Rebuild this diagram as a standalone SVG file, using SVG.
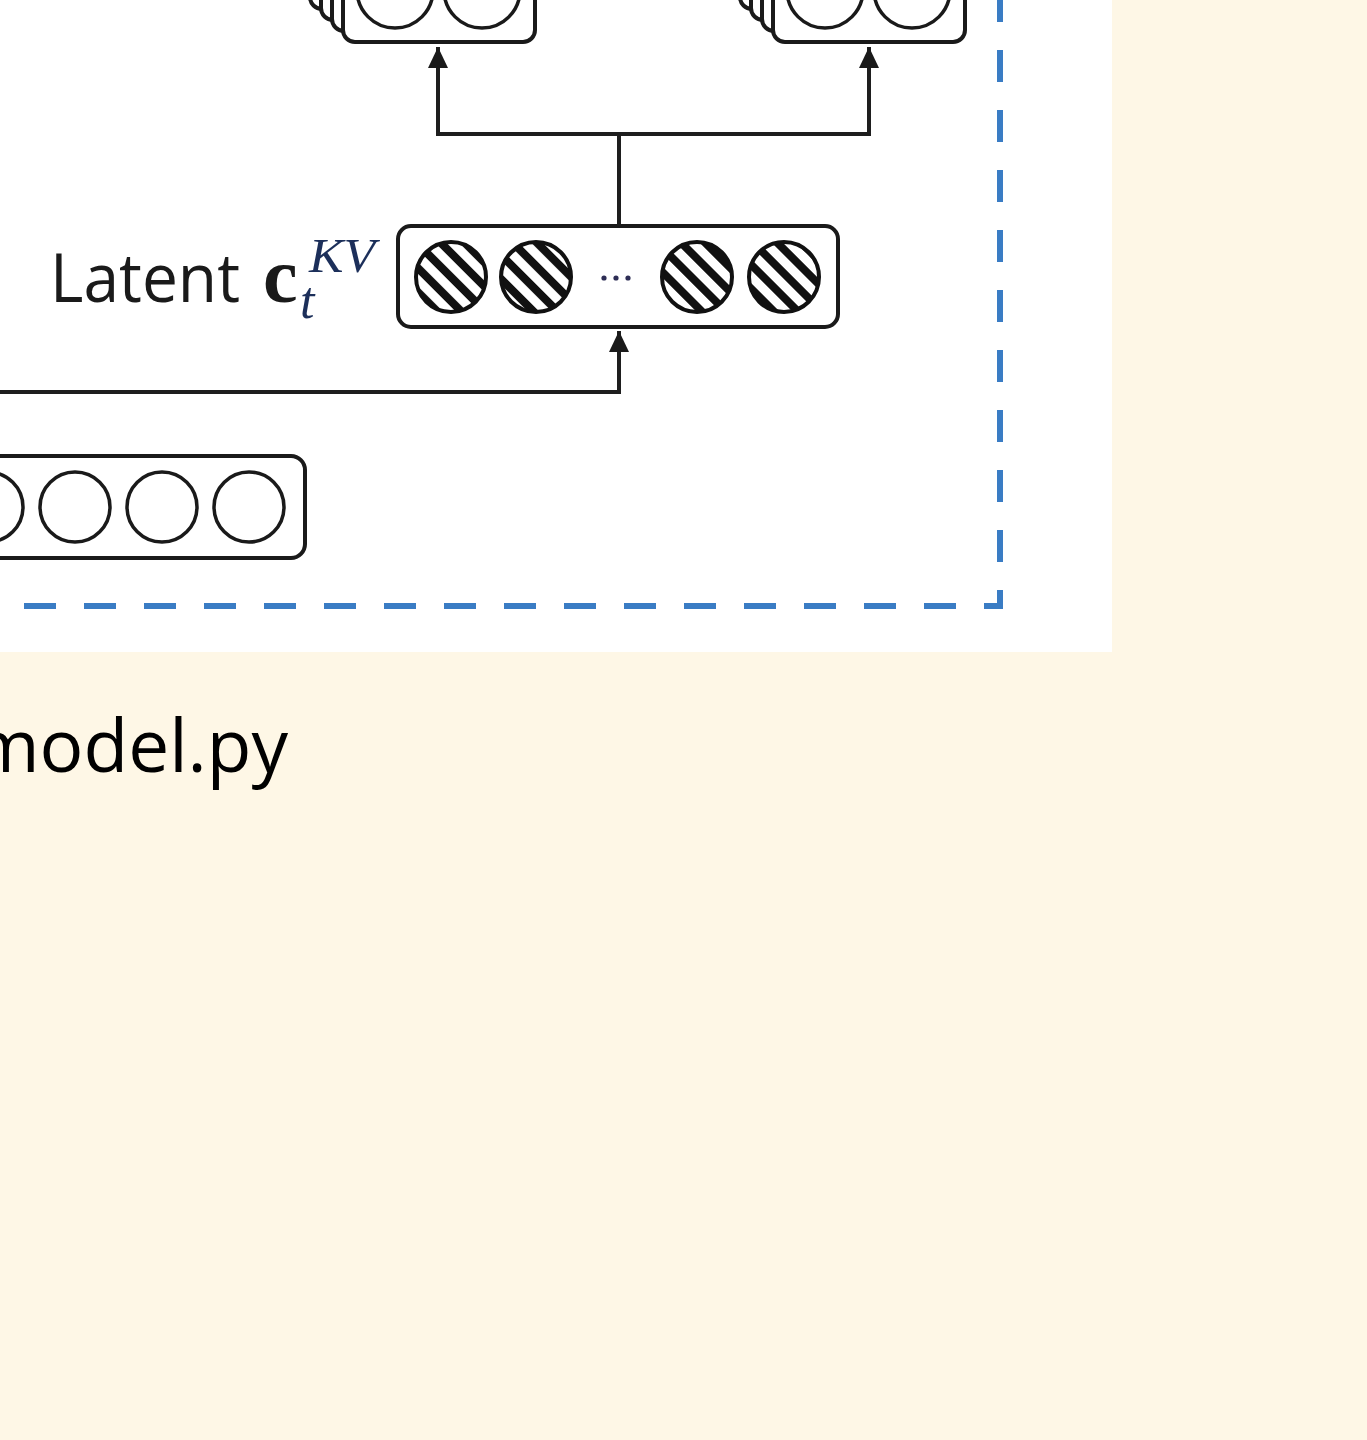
<svg xmlns="http://www.w3.org/2000/svg" width="1367" height="1440" viewBox="0 0 1367 1440">
  <defs>
    <pattern id="hatch" width="17" height="17" patternUnits="userSpaceOnUse" patternTransform="rotate(-45)">
      <rect x="0" y="0" width="17" height="17" fill="#ffffff"/>
      <rect x="0" y="0" width="8" height="17" fill="#111111"/>
    </pattern>
    <marker id="arrow" markerUnits="userSpaceOnUse" markerWidth="22" markerHeight="20" viewBox="0 0 22 20" refX="21" refY="10" orient="auto">
      <path d="M0,0 L21,10 L0,20 Z" fill="#1a1a1a"/>
    </marker>
  </defs>
  <style>
    .box { fill: #ffffff; stroke: #1a1a1a; stroke-width: 4; }
    .circ { fill: #ffffff; stroke: #1a1a1a; stroke-width: 3.5; }
    .hcirc { fill: url(#hatch); stroke: #111111; stroke-width: 4; }
    .conn { fill: none; stroke: #1e1e1e; stroke-width: 4; }
    .dash { fill: none; stroke: #3a7cc4; stroke-width: 6; stroke-dasharray: 32 28; }
  </style>

  <rect x="0" y="0" width="1367" height="1440" fill="#fef7e6"/>
  <rect x="0" y="0" width="1112" height="652" fill="#ffffff"/>

  <g id="border">
    <path class="dash" d="M1000,-10 V606 H-20"/>
  </g>

  <g id="stack-left">
    <rect class="box" x="310" y="-139" width="192" height="148" rx="12"/>
    <rect class="box" x="321" y="-128" width="192" height="148" rx="12"/>
    <rect class="box" x="332" y="-117" width="192" height="148" rx="12"/>
    <rect class="box" x="343" y="-106" width="192" height="148" rx="12"/>
    <circle class="circ" cx="395" cy="-10" r="38"/>
    <circle class="circ" cx="482" cy="-10" r="38"/>
  </g>

  <g id="stack-right">
    <rect class="box" x="740" y="-139" width="192" height="148" rx="12"/>
    <rect class="box" x="751" y="-128" width="192" height="148" rx="12"/>
    <rect class="box" x="762" y="-117" width="192" height="148" rx="12"/>
    <rect class="box" x="773" y="-106" width="192" height="148" rx="12"/>
    <circle class="circ" cx="825" cy="-10" r="38"/>
    <circle class="circ" cx="912" cy="-10" r="38"/>
  </g>

  <g id="latent">
    <rect class="box" x="398" y="226" width="440" height="101" rx="13"/>
    <circle class="hcirc" cx="451" cy="277" r="35"/>
    <circle class="hcirc" cx="536" cy="277" r="35"/>
    <circle class="hcirc" cx="697" cy="277" r="35"/>
    <circle class="hcirc" cx="784" cy="277" r="35"/>
    <circle cx="604" cy="278" r="2.6" fill="#2d2d55"/>
    <circle cx="616" cy="278" r="2.6" fill="#2d2d55"/>
    <circle cx="628" cy="278" r="2.6" fill="#2d2d55"/>
  </g>

  <g id="latent-label">
    <text x="50" y="302" font-family="'Open Sans', 'Liberation Sans', sans-serif" font-size="68" fill="#1a1a1a" textLength="190" lengthAdjust="spacingAndGlyphs">Latent</text>
    <text x="263" y="302" font-family="'Liberation Serif', serif" font-size="78" font-weight="bold" fill="#1a1a1a">c</text>
    <text x="300" y="318" font-family="'Liberation Serif', serif" font-size="52" font-style="italic" fill="#1c2f5a">t</text>
    <text x="309" y="272" font-family="'Liberation Serif', serif" font-size="48" font-style="italic" fill="#1c2f5a" textLength="66" lengthAdjust="spacingAndGlyphs">KV</text>
  </g>

  <g id="input">
    <rect class="box" x="-200" y="456" width="505" height="102" rx="14"/>
    <circle class="circ" cx="-12" cy="507" r="35"/>
    <circle class="circ" cx="75" cy="507" r="35"/>
    <circle class="circ" cx="162" cy="507" r="35"/>
    <circle class="circ" cx="249" cy="507" r="35"/>
  </g>

  <g id="connectors">
    <path class="conn" d="M438,134 V47" marker-end="url(#arrow)"/>
    <path class="conn" d="M869,134 V47" marker-end="url(#arrow)"/>
    <path class="conn" d="M436,134 H871"/>
    <path class="conn" d="M619,134 V226"/>
    <path class="conn" d="M-10,392 H619 V331" marker-end="url(#arrow)"/>
  </g>

  <g id="caption">
    <text x="288" y="772" text-anchor="end" font-family="'Open Sans', 'Noto Sans', sans-serif" font-size="73" fill="#000000">model.py</text>
  </g>
</svg>
